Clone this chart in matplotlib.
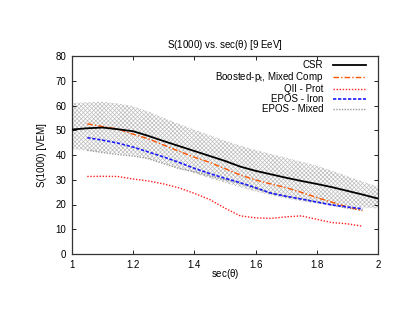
import matplotlib
matplotlib.use("Agg")
import matplotlib.pyplot as plt
import numpy as np

plt.rcParams['font.family'] = ['Liberation Sans', 'DejaVu Sans']
plt.rcParams['hatch.linewidth'] = 0.5

# CSR curve and its uncertainty band
x_csr = [1.0, 1.05, 1.1, 1.15, 1.2, 1.25, 1.3, 1.35, 1.4, 1.45, 1.5, 1.55, 1.6,
         1.65, 1.7, 1.75, 1.8, 1.85, 1.9, 1.95, 2.0]
csr = [50.3, 50.8, 51.1, 50.4, 49.6, 47.7, 45.6, 43.6, 41.6, 39.6, 37.6, 35.3, 33.6,
       32.2, 30.8, 29.5, 28.3, 27.0, 25.5, 24.0, 22.4]
csr_hi = [61.0, 61.3, 61.5, 60.8, 59.7, 57.5, 55.0, 52.5, 50.2, 48.0, 45.8, 43.8, 42.0,
          40.4, 38.9, 37.3, 35.7, 33.6, 31.4, 29.3, 27.2]
csr_lo = [42.4, 41.8, 41.2, 40.6, 40.0, 38.5, 36.7, 34.6, 32.6, 30.6, 28.8, 26.9, 25.2,
          23.8, 22.4, 21.3, 20.4, 19.8, 19.3, 18.8, 18.4]

# model predictions
x_mod = [1.05, 1.1, 1.15, 1.2, 1.25, 1.3, 1.35, 1.4, 1.45, 1.5, 1.55, 1.6,
         1.65, 1.7, 1.75, 1.8, 1.85, 1.9, 1.95]
boosted = [52.6, 51.5, 50.5, 48.4, 46.5, 44.0, 41.5, 39.1, 37.0, 34.5, 31.9, 29.9,
           28.3, 26.8, 24.9, 22.8, 20.9, 19.0, 17.5]
qii_prot = [31.3, 31.4, 31.3, 30.3, 29.5, 28.3, 26.7, 24.5, 22.0, 18.5, 15.4, 14.6,
            14.4, 15.0, 15.4, 14.0, 12.7, 12.2, 11.2]
epos_iron = [47.0, 46.0, 44.8, 43.2, 41.2, 39.2, 37.0, 34.6, 32.5, 30.6, 28.8, 26.8,
             24.6, 23.3, 22.2, 21.0, 19.8, 19.0, 18.3]
epos_mixed = [41.9, 41.0, 40.2, 39.6, 38.5, 36.5, 34.5, 33.3, 31.5, 30.0, 28.5, 26.5,
              24.5, 23.3, 22.2, 21.0, 19.8, 18.5, 17.7]

fig = plt.figure(figsize=(4.07, 3.15), dpi=100)
ax = fig.add_axes([72/407, 1-254/315, (378-72)/407, (254-56)/315])

ax.fill_between(x_csr, csr_lo, csr_hi, facecolor='white', edgecolor='#bdbdbd',
                hatch='xxxxxxxx', linewidth=0, zorder=1)
ax.plot(x_csr, csr, color='black', lw=1.3, label='CSR', zorder=5)
ax.plot(x_mod, boosted, color='#ff5500', lw=1.0, dashes=(4, 1.5, 1, 1.5),
        label=r'Boosted-p$_\mathregular{t}$, Mixed Comp', zorder=4)
ax.plot(x_mod, qii_prot, color='#ff2020', lw=1.0, dashes=(1, 1.2), label='QII - Prot', zorder=4)
ax.plot(x_mod, epos_iron, color='#1a1aff', lw=1.2, dashes=(2, 1), label='EPOS - Iron', zorder=4)
ax.plot(x_mod, epos_mixed, color='#999999', lw=1.0, dashes=(1, 1), label='EPOS - Mixed', zorder=3)

ax.set_xlim(1, 2)
ax.set_ylim(0, 80)
ax.set_xticks([1, 1.2, 1.4, 1.6, 1.8, 2])
ax.set_xticklabels(['1', '1.2', '1.4', '1.6', '1.8', '2'])
ax.set_yticks(range(0, 81, 10))
ax.tick_params(direction='in', top=True, right=True, labelsize=7, length=3,
               width=0.6, pad=4, colors='black')
for s in ax.spines.values():
    s.set_linewidth(0.9)
    s.set_color('#333333')

ax.set_xlabel(r'sec($\mathregular{\theta}$)', fontsize=7, labelpad=-2)
ax.set_ylabel('S(1000) [VEM]', fontsize=7, labelpad=6)
ax.set_title(r'S(1000) vs. sec($\mathregular{\theta}$) [9 EeV]', fontsize=7, pad=6)

leg = ax.legend(loc='upper right', bbox_to_anchor=(366/407, 1-60/315),
                bbox_transform=fig.transFigure, frameon=False, fontsize=7,
                markerfirst=False, borderpad=0, borderaxespad=0, labelspacing=0.0,
                handlelength=3.4, handletextpad=1.0)

fig.savefig('out.png', dpi=100)
